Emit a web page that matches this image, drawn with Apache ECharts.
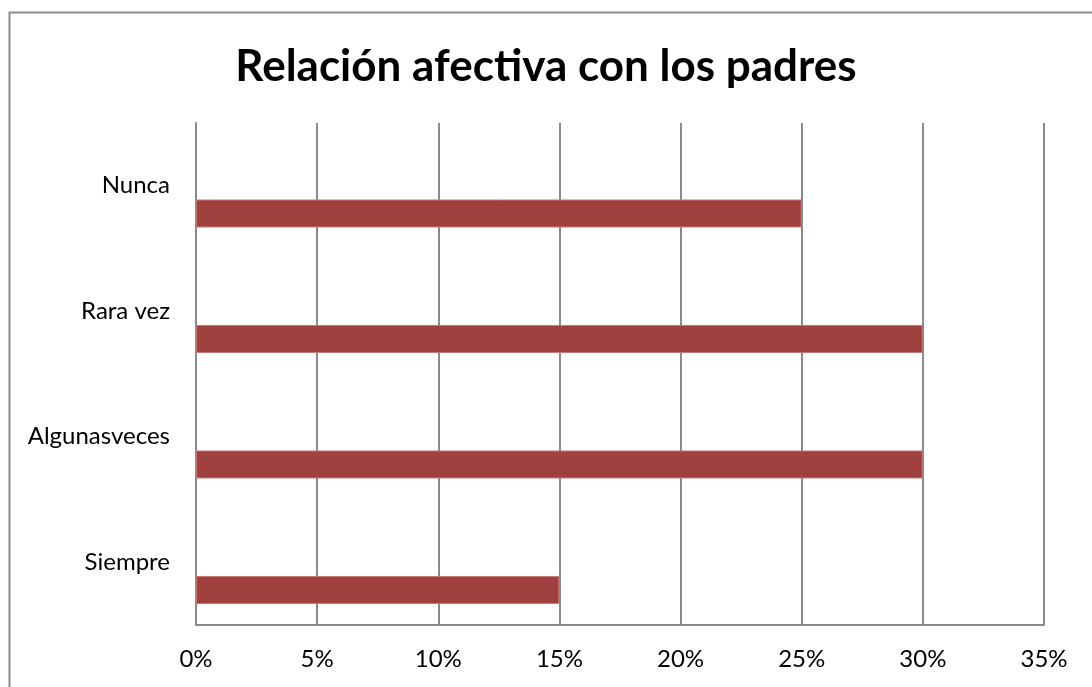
<!DOCTYPE html>
<html>
<head>
<meta charset="utf-8">
<script src="https://cdn.jsdelivr.net/npm/echarts@6/dist/echarts.min.js"></script>
<style>
  html, body { margin: 0; padding: 0; background: #fff; }
  #chart { width: 1092px; height: 687px; }
</style>
</head>
<body>
<div id="chart"></div>
<script>
// datos del gráfico
const categorias = ["Nunca", "Rara vez", "Algunasveces", "Siempre"];
const porcentajes = [25, 30, 30, 15];
const ticksX = [0, 5, 10, 15, 20, 25, 30, 35];

const myChart = echarts.init(document.getElementById("chart"));
const fuente = "Lato, 'Liberation Sans', sans-serif";
const gris = "#8a8a8a";

let option = {
  backgroundColor: "#fff",
  animation: false,
  title: {
    text: "Relación afectiva con los padres",
    left: "center",
    top: 40,
    textStyle: {
      color: "#000",
      fontSize: 44,
      fontWeight: "bold",
      fontFamily: fuente,
    },
  },
  graphic: [
    {
      type: "rect",
      left: 7,
      top: 10,
      shape: { width: 1120, height: 720 },
      style: { fill: "none", stroke: gris, lineWidth: 2 },
      silent: true,
    },
  ],
  grid: {
    left: 196,
    right: 48,
    top: 123,
    bottom: 62,
    containLabel: false,
  },
  xAxis: {
    type: "value",
    min: ticksX[0],
    max: ticksX[ticksX.length - 1],
    interval: 5,
    axisLine: { show: true, lineStyle: { color: gris, width: 2 } },
    axisTick: { show: false },
    axisLabel: {
      formatter: "{value}%",
      color: "#000",
      fontSize: 24,
      fontFamily: fuente,
      margin: 22,
    },
    splitLine: { show: true, lineStyle: { color: gris, width: 2 } },
  },
  yAxis: {
    type: "category",
    inverse: true,
    data: categorias,
    axisLine: { show: true, lineStyle: { color: gris, width: 2 } },
    axisTick: { show: false },
    axisLabel: {
      color: "#000",
      fontSize: 24,
      fontFamily: fuente,
      margin: 26,
    },
  },
  series: [
    {
      // serie vacía para desplazar la barra hacia abajo
      name: "vacía",
      type: "bar",
      data: [],
      barWidth: 28,
      barGap: "98%",
    },
    {
      name: "Porcentaje",
      type: "bar",
      data: porcentajes,
      barWidth: 28,
      barGap: "98%",
      itemStyle: { color: "#A0413F", borderColor: "#c27a78", borderWidth: 1 },
    },
  ],
};
myChart.setOption(option);
</script>
</body>
</html>
